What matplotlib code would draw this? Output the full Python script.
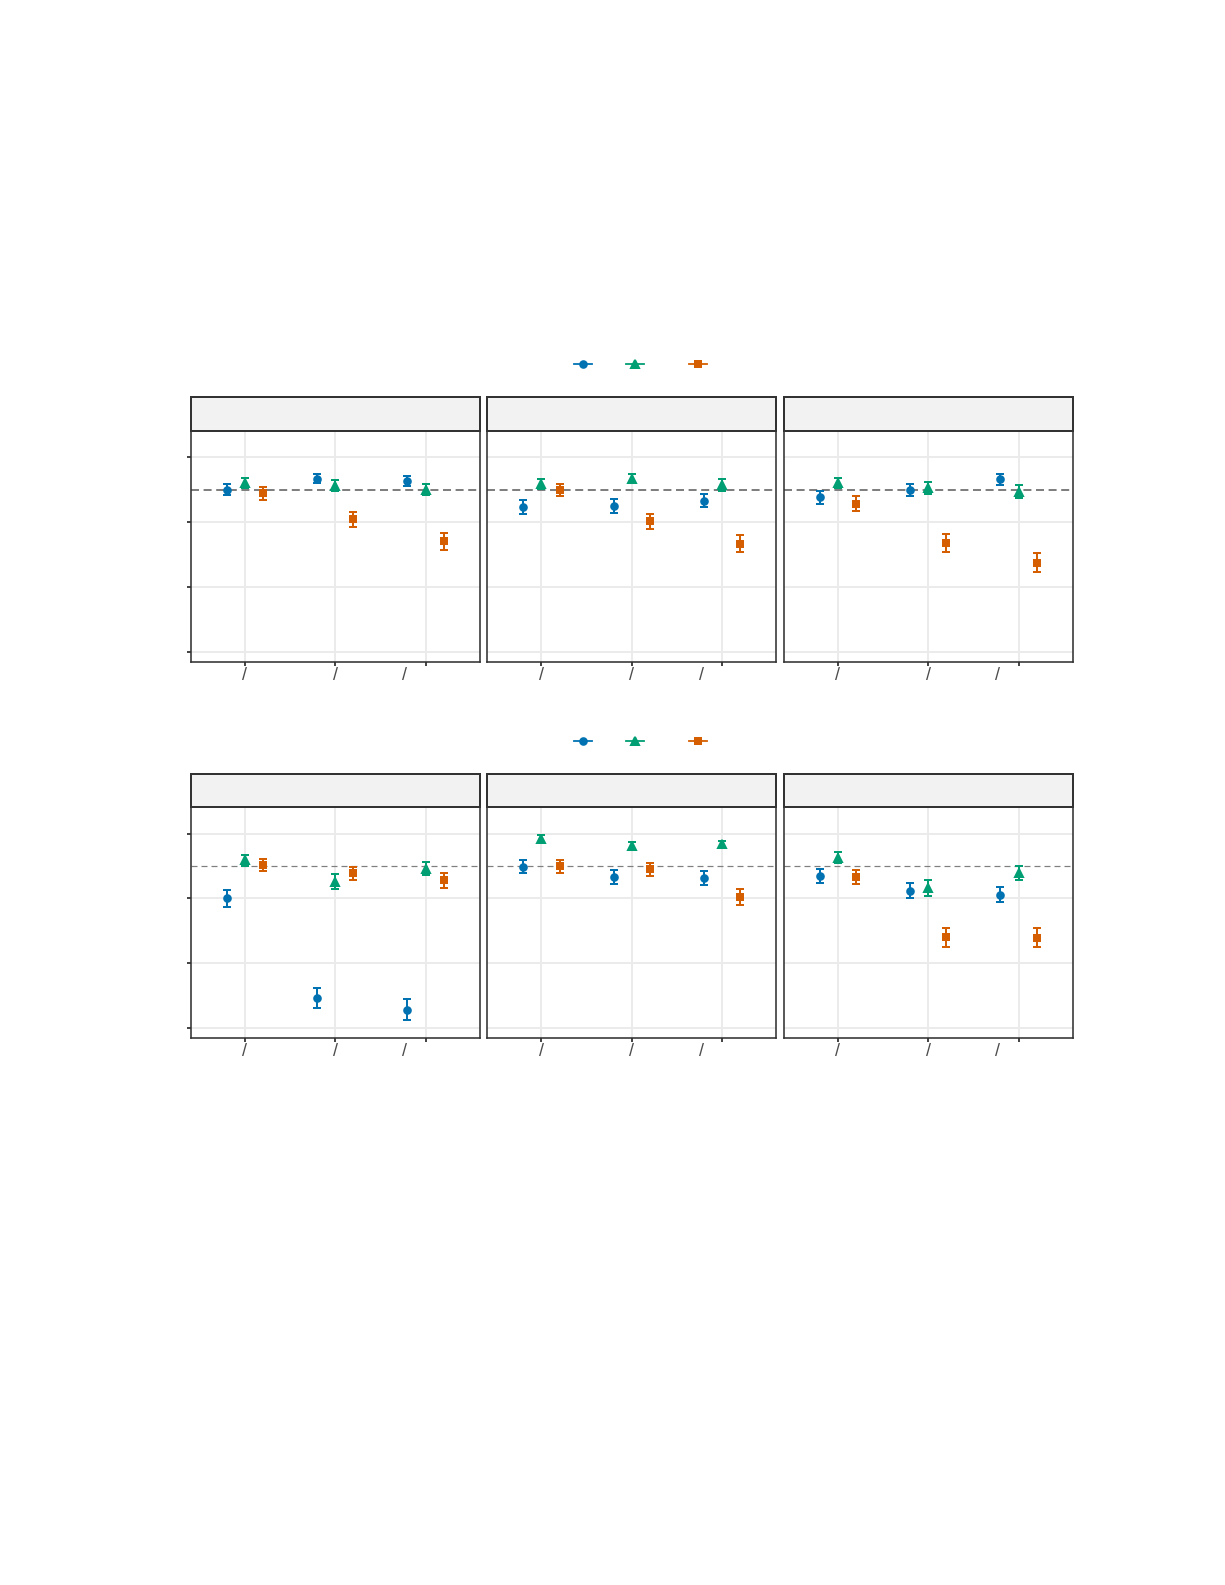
import numpy as np
import matplotlib
matplotlib.use("Agg")
import matplotlib.pyplot as plt
from matplotlib.lines import Line2D

plt.rcParams['font.family'] = ['Liberation Sans', 'DejaVu Sans']
plt.rcParams['lines.scale_dashes'] = False

# ---------------- data ----------------
categories = [1, 2, 3]
tick_labels = ["/", "/", "/"]
y_ticks = [0.7, 0.8, 0.9, 1.0]
reference_line = 0.95

# top row (3 facets x 3 categories)
top_blue = [[0.950, 0.967, 0.9635], [0.923, 0.925, 0.933], [0.938, 0.950, 0.966]]
top_blue_err = [[0.0087, 0.0075, 0.0080], [0.0110, 0.0110, 0.0103], [0.0098, 0.0092, 0.0082]]
top_green = [[0.960, 0.956, 0.950], [0.9587, 0.967, 0.957], [0.960, 0.952, 0.9466]]
top_green_err = [[0.0082, 0.0085, 0.0087], [0.0080, 0.0074, 0.0090], [0.0082, 0.0090, 0.0098]]
top_orange = [[0.9445, 0.904, 0.870], [0.950, 0.901, 0.8667], [0.9284, 0.868, 0.8372]]
top_orange_err = [[0.0098, 0.0118, 0.0136], [0.0092, 0.0120, 0.0136], [0.0110, 0.0139, 0.0146]]

# bottom row
bot_blue = [[0.900, 0.7464, 0.7284], [0.949, 0.9325, 0.931], [0.9345, 0.9119, 0.906]]
bot_blue_err = [[0.0129, 0.0155, 0.0157], [0.0100, 0.0108, 0.0108], [0.0106, 0.0119, 0.0120]]
bot_green = [[0.959, 0.926, 0.946], [0.9923, 0.981, 0.9835], [0.963, 0.916, 0.9387]]
bot_green_err = [[0.0088, 0.0113, 0.0098], [0.0050, 0.0064, 0.0057], [0.0088, 0.0124, 0.0108]]
bot_orange = [[0.951, 0.9387, 0.9278], [0.9495, 0.9448, 0.902], [0.933, 0.840, 0.8397]]
bot_orange_err = [[0.0093, 0.0100, 0.0116], [0.0103, 0.0103, 0.0126], [0.0110, 0.0147, 0.0147]]

# ---------------- style ----------------
W, H, DPI = 1225, 1585, 144
colors = ["#0072B2", "#009E73", "#D55E00"]
markers = ["o", "^", "s"]
msizes = [3.3, 4.0, 3.3]
dodge = [-0.2, 0.0, 0.2]
grid_c = "#EBEBEB"
border_c = "#333333"
strip_c = "#F2F2F2"

fig = plt.figure(figsize=(W / DPI, H / DPI), dpi=DPI)
fig.patch.set_facecolor("white")

panel_lefts = [190.7, 487.3, 783.7]
panel_w = 289.0
rows = [
    dict(panel_top=430.7, panel_bot=661.7, strip_top=397.3, legend_y=364.3,
         series=[(top_blue, top_blue_err), (top_green, top_green_err), (top_orange, top_orange_err)],
         dash_lw=1.0, dashes=(4.0, 2.3)),
    dict(panel_top=807.3, panel_bot=1038.0, strip_top=773.7, legend_y=740.7,
         series=[(bot_blue, bot_blue_err), (bot_green, bot_green_err), (bot_orange, bot_orange_err)],
         dash_lw=0.6, dashes=(3.0, 2.0)),
]
legend_x = [582.7, 635.0, 698.3]


def fx(px):
    return px / W


def fy(py):
    return 1 - py / H


for row in rows:
    # legend
    for k in range(3):
        cx, cy = legend_x[k], row["legend_y"]
        fig.add_artist(Line2D([fx(cx - 9), fx(cx + 9)], [fy(cy), fy(cy)],
                              transform=fig.transFigure, color=colors[k], lw=0.9))
        fig.add_artist(Line2D([fx(cx)], [fy(cy)], transform=fig.transFigure,
                              color=colors[k], marker=markers[k], markersize=msizes[k],
                              linestyle="none"))
    for p in range(3):
        left = panel_lefts[p]
        ax = fig.add_axes([fx(left), fy(row["panel_bot"]), panel_w / W,
                           (row["panel_bot"] - row["panel_top"]) / H])
        # strip
        sax = fig.add_axes([fx(left), fy(row["panel_top"]), panel_w / W,
                            (row["panel_top"] - row["strip_top"]) / H])
        sax.set_facecolor(strip_c)
        sax.set_xticks([])
        sax.set_yticks([])
        for s in sax.spines.values():
            s.set_color(border_c)
            s.set_linewidth(1.0)

        ax.set_xlim(0.4, 3.6)
        ax.set_ylim(0.6846, 1.0408)
        ax.set_yticks(y_ticks)
        ax.set_xticks(categories)
        ax.set_xticklabels(["", "", ""])
        ax.set_yticklabels([])
        ax.grid(True, color=grid_c, lw=1.0)
        ax.set_axisbelow(True)
        ax.tick_params(axis="x", length=2.2, width=0.9, color=border_c)
        if p == 0:
            ax.tick_params(axis="y", length=2.2, width=0.9, color=border_c)
        else:
            ax.tick_params(axis="y", length=0)
        for s in ax.spines.values():
            s.set_color(border_c)
            s.set_linewidth(0.8)

        hl = ax.axhline(reference_line, color="#7F7F7F", lw=row["dash_lw"], zorder=2)
        hl.set_dashes(row["dashes"])

        for k, (vals, errs) in enumerate(row["series"]):
            x = np.array(categories) + dodge[k]
            ax.errorbar(x, vals[p], yerr=errs[p], fmt=markers[k], color=colors[k],
                        ms=msizes[k], elinewidth=1.0, capsize=1.9, capthick=1.0,
                        zorder=3)

        label_dx = [0, 0, -10.5]
        for c, lab, dx in zip(categories, tick_labels, label_dx):
            ax.annotate(lab, xy=(c, 0), xycoords=("data", "axes fraction"),
                        xytext=(dx, -7.0), textcoords="offset points",
                        ha="center", va="center", fontsize=9, color="#4D4D4D")

fig.savefig("out.png", dpi=DPI, facecolor="white")
